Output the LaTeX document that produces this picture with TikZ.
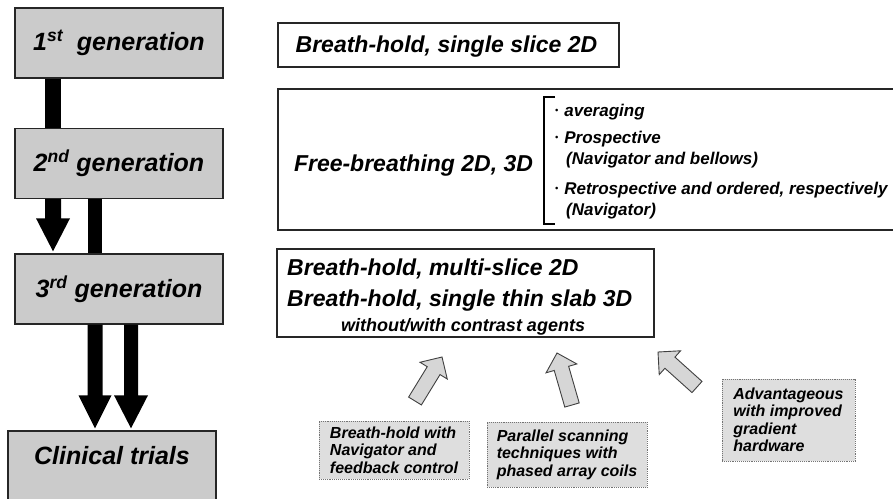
\documentclass[tikz,border=0pt]{standalone}
\usepackage{fontspec}
\setmainfont{Liberation Sans}
\usetikzlibrary{calc}
\definecolor{gengray}{RGB}{203,203,203}
\definecolor{dotfill}{RGB}{222,222,222}
\definecolor{arrfill}{RGB}{214,214,214}
% black block arrow: #1 start, #2 end node anchor, #3 shaft half width, #4 head half width
\newcommand{\blackarr}[4]{%
  \fill let \p1=#1, \p2=#2 in
    (\x1-#3,\y1) -- (\x1+#3,\y1) -- (\x1+#3,\y2+35pt) -- (\x1+#4,\y2+35pt)
    -- (\x1,\y2+2pt) -- (\x1-#4,\y2+35pt) -- (\x1-#3,\y2+35pt) -- cycle;}
\newcommand{\blackbar}[3]{%
  \fill let \p1=#1, \p2=#2 in (\x1-#3,\y1) rectangle (\x1+#3,\y2);}
% gray outlined block arrow from #1 (tail) to #2 (tip)
\newcommand{\grayarr}[2]{%
  \draw[arrowbody] let \p1=#1, \p2=#2, \n1={atan2(\y2-\y1,\x2-\x1)},
      \n2={veclen(\x2-\x1,\y2-\y1)} in
    (\p1) ++(\n1-90:7.5pt) -- ++(\n1:\n2-16pt) -- ++(\n1-90:8.5pt) -- (\p2)
    -- ($(\p1)+(\n1:\n2-16pt)+(\n1+90:16pt)$) -- ++(\n1-90:8.5pt)
    -- ++(\n1+180:\n2-16pt) -- cycle;}
\newcommand{\bul}{\raisebox{2.5pt}{\fontsize{9}{9}\selectfont\textbullet}\hspace{6pt}}
\begin{document}
\begin{tikzpicture}[x=1pt,y=-1pt,
  genbox/.style={draw=black!85, line width=1.4pt, fill=gengray, minimum width=208pt,
    minimum height=70pt, inner sep=0pt, font=\fontsize{25}{28}\selectfont\bfseries\itshape},
  plainbox/.style={draw=black!85, line width=1.3pt, fill=white, inner sep=0pt},
  bigtxt/.style={inner sep=0pt, font=\fontsize{23}{26}\selectfont\bfseries\itshape},
  bultxt/.style={inner sep=0pt, anchor=base west, font=\fontsize{17}{20}\selectfont\bfseries\itshape},
  dotbox/.style={draw=black!55, densely dotted, line width=0.9pt, fill=dotfill, inner sep=0pt,
    align=left, font=\fontsize{16}{17.5}\selectfont\bfseries\itshape},
  arrowbody/.style={draw=black!75, line width=0.9pt, fill=arrfill, line join=miter}]

\useasboundingbox (0,0) rectangle (893,498);
\fill[white] (0,0) rectangle (893,498);

% left column
\node[genbox] (g1) at (119,43) {1\textsuperscript{st}\hspace{0.55em}generation};
\node[genbox] (g2) at (119,163.5) {2\textsuperscript{nd} generation};
\node[genbox] (g3) at (119,289) {3\textsuperscript{rd} generation};
\node[genbox, minimum height=0pt, anchor=base, text height=33pt, text depth=41pt] (clin) at (112,464) {Clinical trials};

\blackbar{([xshift=-66pt]g1.south)}{(g2.north)}{8pt}
\blackarr{([xshift=-66pt]g2.south)}{(g3.north)}{8pt}{17pt}
\blackbar{([xshift=-24pt]g2.south)}{(g3.north)}{7pt}
\blackarr{([xshift=-24pt]g3.south)}{(clin.north)}{7.5pt}{16.5pt}
\blackarr{([xshift=12pt]g3.south)}{(clin.north)}{7pt}{17pt}

% right column
\node[plainbox, minimum width=341pt, minimum height=44pt] (b1) at (448.5,45) {};
\node[bigtxt] (b1t) at (446.5,47) {Breath-hold, single slice 2D};

\node[plainbox, minimum width=622pt, minimum height=141pt] (b2) at (589,159.5) {};
\node[bigtxt] (b2t) at (413.5,166) {Free-breathing 2D, 3D};
\draw[line width=1.3pt] (555,97) -- (544,97) -- (544,224) -- (555,224);
\node[bultxt] (li1) at (555,116) {\bul averaging};
\node[bultxt] (li2) at (555,143) {\bul Prospective};
\node[bultxt] (li3) at (566,164) {(Navigator and bellows)};
\node[bultxt] (li4) at (555,194) {\bul Retrospective and ordered, respectively};
\node[bultxt] (li5) at (566,215) {(Navigator)};

\node[plainbox, minimum width=377pt, minimum height=88pt] (b3) at (465.5,293) {};
\node[bigtxt, anchor=base west] (m1) at (287,275) {Breath-hold, multi-slice 2D};
\node[bigtxt, anchor=base west] (m2) at (287,306) {Breath-hold, single thin slab 3D};
\node[inner sep=0pt, anchor=base, font=\fontsize{18}{20}\selectfont\bfseries\itshape] (m3) at (463,331) {without/with contrast agents};

% dotted boxes
\node[dotbox, minimum width=150pt, minimum height=58pt] (d1) at (394,450) {Breath-hold with\\Navigator and\\feedback control};
\node[dotbox, minimum width=160pt, minimum height=65pt] (d2) at (567,454.5) {Parallel scanning\\techniques with\\phased array coils};
\node[dotbox, minimum width=133pt, minimum height=82pt] (d3) at (788.5,420) {Advantageous\\with improved\\gradient\\hardware};

% gray arrows
\coordinate (a1s) at (415,401);
\coordinate (a1e) at (442,357);
\coordinate (a2s) at (572,405);
\coordinate (a2e) at (557,353);
\coordinate (a3s) at (697,387);
\coordinate (a3e) at (658,352);
\grayarr{(a1s)}{(a1e)}
\grayarr{(a2s)}{(a2e)}
\grayarr{(a3s)}{(a3e)}
\end{tikzpicture}
\end{document}
